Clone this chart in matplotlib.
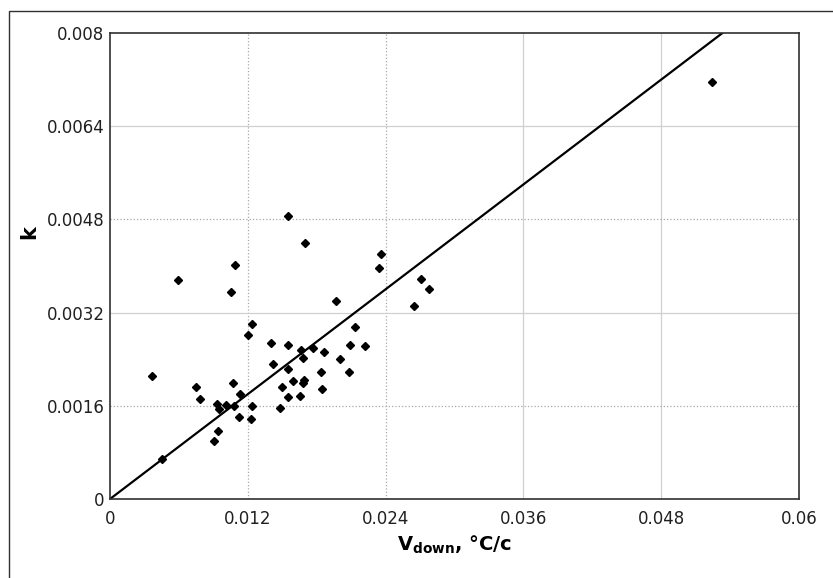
import matplotlib
matplotlib.use('Agg')
import matplotlib.pyplot as plt
from matplotlib.patches import Rectangle
import numpy as np

# Measured points: cooling rate vs coefficient k
v_down = [0.01553, 0.01698, 0.01089, 0.00595, 0.01054, 0.02357, 0.02345,
          0.02706, 0.02778, 0.02645, 0.01971, 0.01234, 0.01199, 0.01399,
          0.01553, 0.02134, 0.02090, 0.02223, 0.01661, 0.01765, 0.01864,
          0.01678, 0.02006, 0.01417, 0.01550, 0.01837, 0.02079, 0.01596,
          0.01692, 0.01683, 0.01500, 0.01846, 0.01553, 0.01655, 0.01480,
          0.00368, 0.00746, 0.00781, 0.01074, 0.01132, 0.00932, 0.00952,
          0.01008, 0.01080, 0.01234, 0.01126, 0.01225, 0.00943, 0.00903,
          0.00450, 0.05240]
k_vals = [0.004858, 0.004400, 0.004017, 0.003760, 0.003549, 0.004206,
          0.003971, 0.003777, 0.003600, 0.003308, 0.003404, 0.002999,
          0.002810, 0.002683, 0.002644, 0.002958, 0.002644, 0.002621,
          0.002558, 0.002592, 0.002518, 0.002426, 0.002403, 0.002318,
          0.002232, 0.002175, 0.002175, 0.002031, 0.002043, 0.001986,
          0.001928, 0.001883, 0.001751, 0.001763, 0.001567, 0.002117,
          0.001918, 0.001712, 0.001997, 0.001803, 0.001626, 0.001540,
          0.001619, 0.001597, 0.001597, 0.001403, 0.001379, 0.001167,
          0.000990, 0.000691, 0.007164]

# Fitted line through the origin
slope = 0.150

x_ticks = [0, 0.012, 0.024, 0.036, 0.048, 0.06]
x_tick_labels = ['0', '0.012', '0.024', '0.036', '0.048', '0.06']
y_ticks = [0, 0.0016, 0.0032, 0.0048, 0.0064, 0.008]
y_tick_labels = ['0', '0.0016', '0.0032', '0.0048', '0.0064', '0.008']

plt.rcParams['font.family'] = ['DejaVu Sans']
plt.rcParams['mathtext.fontset'] = 'dejavusans'

W, H = 833, 578
fig = plt.figure(figsize=(W / 100, H / 100), dpi=100)
fig.patch.set_facecolor('white')

# axes box in pixels: left 110, right 799, top 33, bottom 499
ax = fig.add_axes([110 / W, 1 - 499 / H, 689 / W, 466 / H])

# outer frame, only left and top edges fall inside the canvas
fig.add_artist(Rectangle((9 / W, -0.2), 1.5, 1 - 11 / H + 0.2,
                         transform=fig.transFigure, fill=False,
                         edgecolor='#303030', linewidth=1.0))

ax.set_xlim(0, 0.06)
ax.set_ylim(0, 0.008)

# grid: some lines dotted, some solid light gray
x_grid_styles = [':', ':', '-', '-']
y_grid_styles = [':', '-', ':', '-']
for xv, ls in zip(x_ticks[1:-1], x_grid_styles):
    ax.axvline(xv, color='#a8a8a8' if ls == ':' else '#d0d0d0',
               linestyle=ls, linewidth=0.9, zorder=0)
for yv, ls in zip(y_ticks[1:-1], y_grid_styles):
    ax.axhline(yv, color='#a8a8a8' if ls == ':' else '#d0d0d0',
               linestyle=ls, linewidth=0.9, zorder=0)

xs = np.array([0, 0.06])
ax.plot(xs, slope * xs, color='black', linewidth=1.6, zorder=2)
ax.plot(v_down, k_vals, linestyle='none', marker='D', markersize=4.5,
        color='black', zorder=3)

ax.set_xticks(x_ticks)
ax.set_xticklabels(x_tick_labels)
ax.set_yticks(y_ticks)
ax.set_yticklabels(y_tick_labels)
ax.tick_params(length=0, labelsize=12, colors='#202020')
ax.tick_params(axis='x', pad=8)
ax.tick_params(axis='y', pad=4)

for sp in ax.spines.values():
    sp.set_color('#303030')
    sp.set_linewidth(1.2)

ax.set_xlabel(r'$\mathbf{V_{down}}$, °C/c', fontsize=14, fontweight='bold',
              va='center')
ax.xaxis.set_label_coords(0.5, -0.099)
ax.set_ylabel('k', fontsize=15, fontweight='bold', va='center')
ax.yaxis.set_label_coords(-0.1176, 0.573)

fig.savefig('out.png', dpi=100, facecolor='white')
plt.close(fig)
